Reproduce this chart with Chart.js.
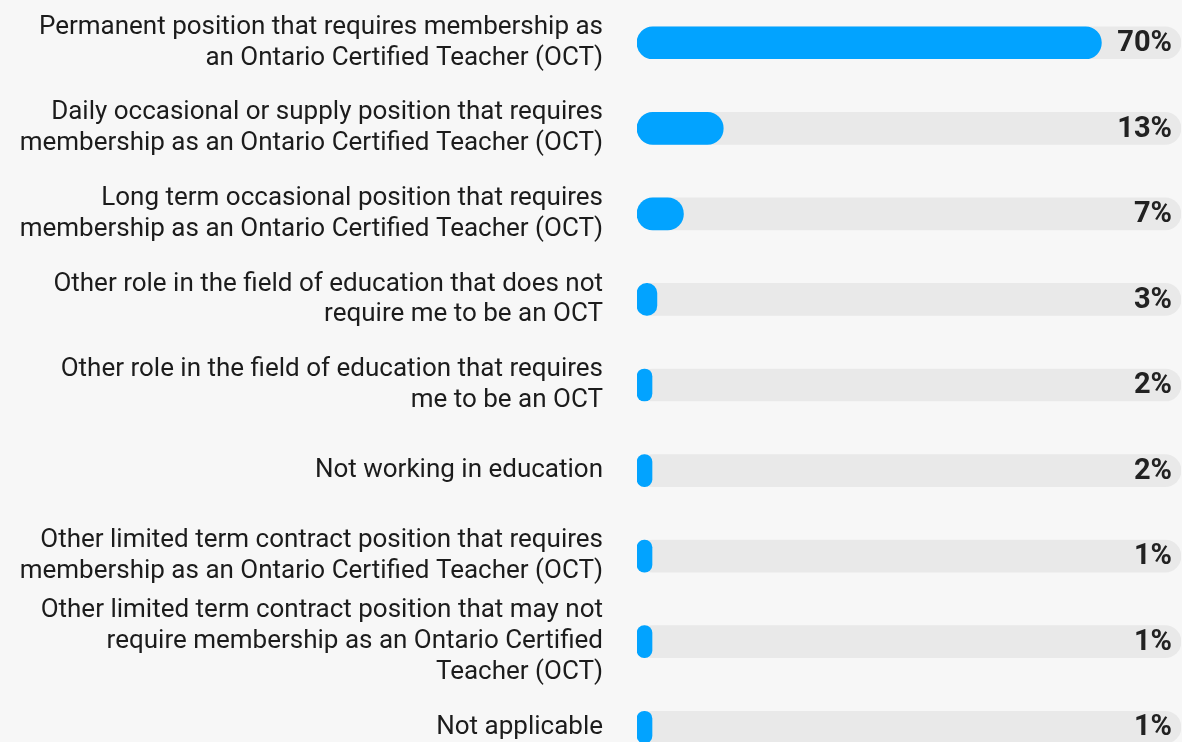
<!DOCTYPE html>
<html>
<head>
<meta charset="utf-8">
<script src="https://cdn.jsdelivr.net/npm/chart.js@4/dist/chart.umd.min.js"></script>
<style>
  html, body { margin: 0; padding: 0; background: #f7f7f7; overflow: hidden; }
  #wrap { position: relative; width: 1182px; height: 770px; }
</style>
</head>
<body>
<div id="wrap"><canvas id="chart"></canvas></div>
<script>
// survey answers, one per row (multi-line labels)
const categories = [
  ['Permanent position that requires membership as', 'an Ontario Certified Teacher (OCT)'],
  ['Daily occasional or supply position that requires', 'membership as an Ontario Certified Teacher (OCT)'],
  ['Long term occasional position that requires', 'membership as an Ontario Certified Teacher (OCT)'],
  ['Other role in the field of education that does not', 'require me to be an OCT'],
  ['Other role in the field of education that requires', 'me to be an OCT'],
  ['Not working in education'],
  ['Other limited term contract position that requires', 'membership as an Ontario Certified Teacher (OCT)'],
  ['Other limited term contract position that may not', 'require membership as an Ontario Certified', 'Teacher (OCT)'],
  ['Not applicable']
];
const values = [70, 13, 7, 3, 2, 2, 1, 1, 1];

const X_MAX = 82;
const BLUE = '#02a3ff';
const TRACK = '#e9e9e9';

// right aligned value labels inside the track
const valueLabels = {
  id: 'valueLabels',
  afterDatasetsDraw(chart) {
    const { ctx, chartArea } = chart;
    const meta = chart.getDatasetMeta(1);
    ctx.save();
    ctx.font = 'bold 29px Roboto';
    ctx.fillStyle = '#222222';
    ctx.textAlign = 'right';
    ctx.textBaseline = 'middle';
    meta.data.forEach((bar, i) => {
      ctx.fillText(values[i] + '%', chartArea.right - 9, bar.y + 1);
    });
    ctx.restore();
  }
};

const ctx = document.getElementById('chart').getContext('2d');
new Chart(ctx, {
  type: 'bar',
  data: {
    labels: categories,
    datasets: [
      {
        label: 'track',
        data: categories.map(() => X_MAX),
        backgroundColor: TRACK,
        borderRadius: 16,
        borderSkipped: false,
        barThickness: 32,
        grouped: false,
        order: 2
      },
      {
        label: 'share',
        data: values,
        backgroundColor: BLUE,
        borderRadius: 16,
        borderSkipped: false,
        barThickness: 32,
        minBarLength: 15,
        grouped: false,
        order: 1
      }
    ]
  },
  options: {
    indexAxis: 'y',
    responsive: true,
    maintainAspectRatio: false,
    animation: false,
    layout: { padding: { left: 0, right: 1, top: 0, bottom: 0 } },
    plugins: {
      legend: { display: false },
      tooltip: { enabled: false }
    },
    scales: {
      x: {
        display: false,
        min: 0,
        max: X_MAX
      },
      y: {
        grid: { display: false, drawTicks: false },
        border: { display: false },
        ticks: {
          autoSkip: false,
          padding: 34,
          color: '#1c1c1c',
          font: { family: 'Roboto', size: 26, lineHeight: 1.18 }
        },
        afterFit(scale) {
          scale.width = 637;
          scale.paddingTop = 0;
          scale.paddingBottom = 0;
        }
      }
    }
  },
  plugins: [valueLabels]
});
</script>
</body>
</html>
